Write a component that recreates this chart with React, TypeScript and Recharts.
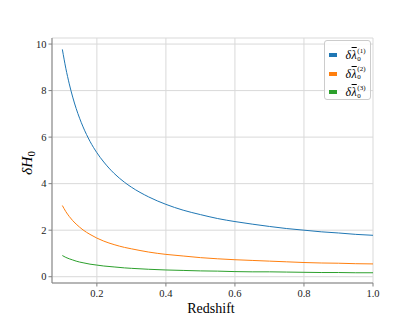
import React from 'react';
import { LineChart, Line, XAxis, YAxis, CartesianGrid, Legend } from 'recharts';

const redshift = [0.10, 0.11, 0.12, 0.13, 0.14, 0.15, 0.16, 0.18, 0.20, 0.22, 0.25, 0.28, 0.30, 0.35, 0.40, 0.45, 0.50, 0.55, 0.60, 0.65, 0.70, 0.75, 0.80, 0.85, 0.90, 0.95, 1.00];
const lambda1 = [9.77, 8.96, 8.29, 7.72, 7.23, 6.81, 6.44, 5.82, 5.33, 4.93, 4.44, 4.06, 3.85, 3.43, 3.11, 2.86, 2.67, 2.50, 2.37, 2.26, 2.16, 2.07, 2.00, 1.93, 1.88, 1.82, 1.78];
const lambda2 = [3.06, 2.80, 2.59, 2.41, 2.26, 2.13, 2.01, 1.82, 1.66, 1.53, 1.38, 1.26, 1.20, 1.06, 0.96, 0.89, 0.82, 0.77, 0.73, 0.70, 0.67, 0.64, 0.61, 0.59, 0.58, 0.56, 0.55];
const lambda3 = [0.91, 0.83, 0.77, 0.72, 0.67, 0.63, 0.60, 0.54, 0.50, 0.46, 0.42, 0.38, 0.36, 0.32, 0.29, 0.27, 0.25, 0.24, 0.22, 0.21, 0.21, 0.20, 0.19, 0.18, 0.18, 0.17, 0.17];
const xTicks = [0.2, 0.4, 0.6, 0.8, 1.0];
const yTicks = [0, 2, 4, 6, 8, 10];
const seriesNames = ['1', '2', '3'];

const data = redshift.map((z, i) => ({ z, s1: lambda1[i], s2: lambda2[i], s3: lambda3[i] }));

const FONT = "'Liberation Serif', 'DejaVu Serif', serif";
const SPINE = '#808080';

const LegendContent = (props: any) => {
  const payload = props.payload || [];
  return (
    <div
      style={{
        width: 47,
        height: 60,
        border: '1px solid #cccccc',
        borderRadius: 3,
        background: 'rgba(255,255,255,0.85)',
        boxSizing: 'border-box',
        paddingTop: 5,
        fontFamily: FONT,
        color: '#000',
      }}
    >
      {payload.map((p: any, i: number) => (
        <div key={i} style={{ display: 'flex', alignItems: 'center', height: 18.5 }}>
          <div style={{ width: 7.5, height: 4, background: p.color, marginLeft: 4, marginRight: 9 }} />
          <span style={{ fontStyle: 'italic', fontSize: 12, lineHeight: '12px' }}>δ</span>
          <span style={{ fontStyle: 'italic', fontSize: 12, lineHeight: '12px', textDecoration: 'overline', marginLeft: 0.5 }}>λ</span>
          <span style={{ display: 'inline-flex', flexDirection: 'column', fontSize: 7, lineHeight: '8px', marginLeft: 0.5, marginTop: -1 }}>
            <span>({seriesNames[i]})</span>
            <span>0</span>
          </span>
        </div>
      ))}
    </div>
  );
};

const YLabel = () => (
  <text x={32} y={163} transform="rotate(-90 32 163)" textAnchor="middle" fontFamily={FONT} fontSize={15.5} fill="#000">
    <tspan fontStyle="italic">δH</tspan>
    <tspan fontSize={11} dy={3}>0</tspan>
  </text>
);

const XLabel = () => (
  <text x={211} y={313} textAnchor="middle" fontFamily={FONT} fontSize={14} fill="#000">
    Redshift
  </text>
);

export default function App() {
  return (
    <div style={{ position: 'absolute', left: 0, top: 0, width: 415, height: 325, background: '#fff' }}>
      <LineChart width={415} height={325} data={data} margin={{ top: 38, right: 42, bottom: 0, left: 0 }}>
        <CartesianGrid xAxisId="main" yAxisId="main" stroke="#d9d9d9" strokeWidth={1} />
        <XAxis
          xAxisId="main"
          dataKey="z"
          type="number"
          domain={[0.07, 1.0]}
          allowDataOverflow
          ticks={xTicks}
          tickFormatter={(v: number) => v.toFixed(1)}
          height={42}
          tickSize={3.5}
          tickMargin={3}
          stroke={SPINE}
          tick={{ fill: '#222', fontFamily: FONT, fontSize: 10.5 }}
          tickLine={{ stroke: SPINE }}
          label={{ content: XLabel } as any}
        />
        <XAxis xAxisId="top" orientation="top" dataKey="z" type="number" domain={[0.07, 1.0]} height={0} tick={false} tickLine={false} stroke={SPINE} />
        <YAxis
          yAxisId="main"
          type="number"
          domain={[-0.27, 10.26]}
          allowDataOverflow
          ticks={yTicks}
          width={52}
          tickSize={3.5}
          tickMargin={2}
          stroke={SPINE}
          tick={{ fill: '#222', fontFamily: FONT, fontSize: 10.5 }}
          tickLine={{ stroke: SPINE }}
          label={{ content: YLabel } as any}
        />
        <YAxis yAxisId="right" orientation="right" type="number" domain={[-0.27, 10.26]} width={0} tick={false} tickLine={false} stroke={SPINE} />
        <Line xAxisId="main" yAxisId="main" type="monotone" dataKey="s1" name="l1" stroke="#1f77b4" strokeWidth={1} dot={false} isAnimationActive={false} />
        <Line xAxisId="main" yAxisId="main" type="monotone" dataKey="s2" name="l2" stroke="#ff7f0e" strokeWidth={1} dot={false} isAnimationActive={false} />
        <Line xAxisId="main" yAxisId="main" type="monotone" dataKey="s3" name="l3" stroke="#2ca02c" strokeWidth={1} dot={false} isAnimationActive={false} />
        <Legend
          layout="vertical"
          align="center"
          verticalAlign="middle"
          content={LegendContent}
          wrapperStyle={{ left: 324, top: 40, width: 47, height: 60 }}
        />
      </LineChart>
    </div>
  );
}
